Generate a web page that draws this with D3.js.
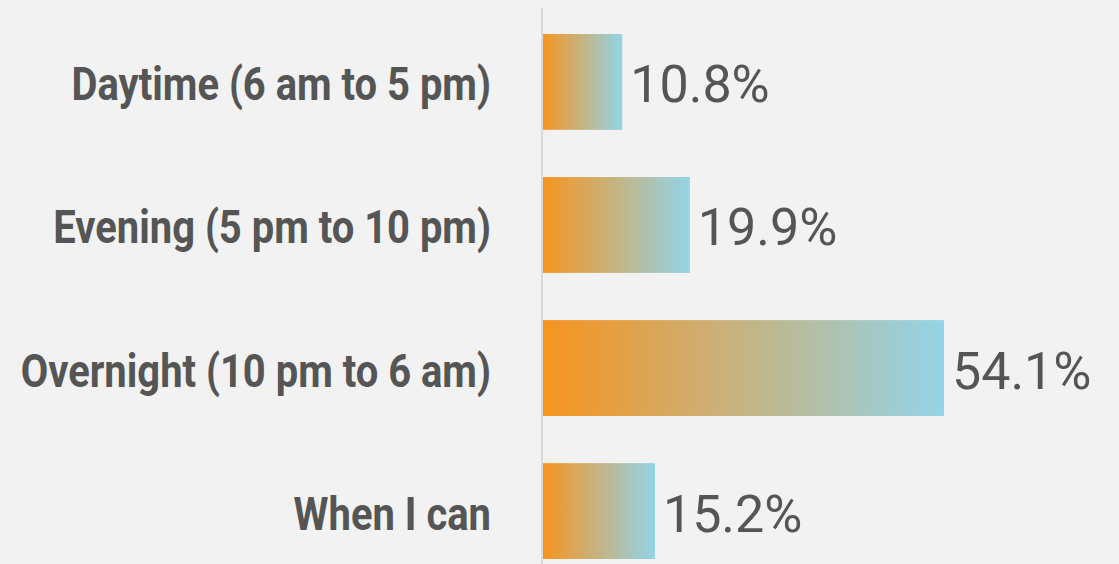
<!DOCTYPE html>
<html>
<head>
<meta charset="utf-8">
<script src="https://cdn.jsdelivr.net/npm/d3@7"></script>
<style>
  html, body { margin: 0; padding: 0; background: #f1f2f1; }
  svg { display: block; }
</style>
</head>
<body>
<svg id="chart" width="1119" height="564"></svg>
<script>
// Share of respondents by time of day
const categories = [
  "Daytime (6 am to 5 pm)",
  "Evening (5 pm to 10 pm)",
  "Overnight (10 pm to 6 am)",
  "When I can"
];
const values = [10.8, 19.9, 54.1, 15.2];

const W = 1119, H = 564;
const axisX = 542;

const svg = d3.select("#chart");
svg.append("rect").attr("width", W).attr("height", H).attr("fill", "#f1f2f1");

const x = d3.scaleLinear().domain([0, 100]).range([axisX, axisX + 743]);
const y = d3.scaleBand().domain(categories).range([34, 559]).paddingInner(0.33).paddingOuter(0);

// horizontal orange-to-blue gradient used for every bar
const defs = svg.append("defs");
const grad = defs.append("linearGradient").attr("id", "barGrad")
  .attr("x1", "0%").attr("x2", "100%").attr("y1", "0%").attr("y2", "0%");
grad.append("stop").attr("offset", "0%").attr("stop-color", "#f7941e");
grad.append("stop").attr("offset", "100%").attr("stop-color", "#92d4e8");

const rows = categories.map((c, i) => ({ cat: c, val: values[i] }));

svg.append("g").selectAll("rect").data(rows).join("rect")
  .attr("x", x(0))
  .attr("y", d => y(d.cat))
  .attr("width", d => x(d.val) - x(0))
  .attr("height", y.bandwidth())
  .attr("fill", "url(#barGrad)");

// vertical baseline
svg.append("line")
  .attr("x1", x(0)).attr("x2", x(0))
  .attr("y1", 8).attr("y2", H)
  .attr("stroke", "#d9d9d9").attr("stroke-width", 2);

// category labels, set in a condensed bold face
svg.append("g").selectAll("text").data(rows).join("text")
  .attr("transform", d => `translate(491,${y(d.cat) + y.bandwidth() / 2 + 18.5}) scale(0.85,1)`)
  .attr("text-anchor", "end")
  .attr("font-family", "Roboto, sans-serif")
  .attr("font-weight", 700)
  .attr("font-size", 47)
  .attr("fill", "#555555")
  .text(d => d.cat);

// value labels
svg.append("g").selectAll("text").data(rows).join("text")
  .attr("x", d => x(d.val) + 8)
  .attr("y", d => y(d.cat) + y.bandwidth() / 2 + 20.5)
  .attr("font-family", "Roboto, sans-serif")
  .attr("font-size", 52)
  .attr("fill", "#555555")
  .text(d => d.val.toFixed(1) + "%");
</script>
</body>
</html>
